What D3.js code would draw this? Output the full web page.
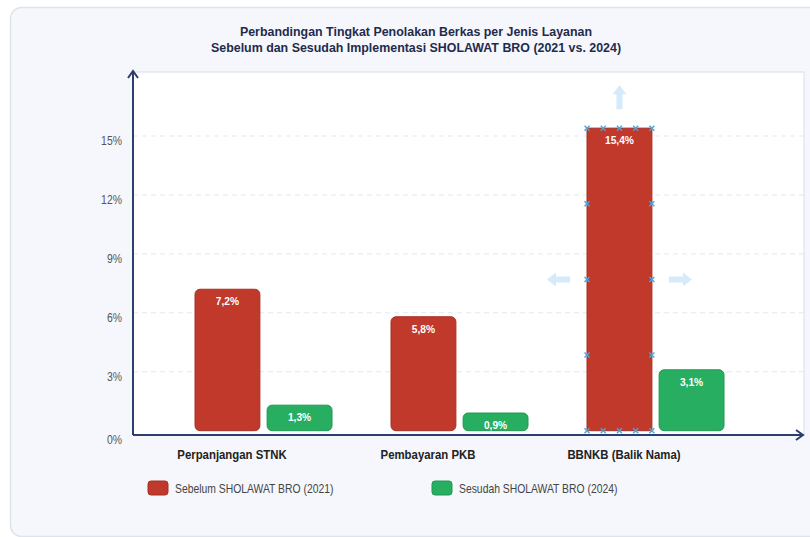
<!DOCTYPE html>
<html><head><meta charset="utf-8">
<script src="https://cdn.jsdelivr.net/npm/d3@7"></script>
<style>
html,body{margin:0;padding:0;background:#fff;}
svg{display:block;font-family:"Liberation Sans",Arial,sans-serif;}
</style></head>
<body><svg id="c" width="810" height="537"></svg>
<script>
const titleLines = ["Perbandingan Tingkat Penolakan Berkas per Jenis Layanan","Sebelum dan Sesudah Implementasi SHOLAWAT BRO (2021 vs. 2024)"];
const categories = ["Perpanjangan STNK","Pembayaran PKB","BBNKB (Balik Nama)"];
const seriesNames = ["Sebelum SHOLAWAT BRO (2021)","Sesudah SHOLAWAT BRO (2024)"];
const before2021 = [7.2, 5.8, 15.4];
const after2024 = [1.3, 0.9, 3.1];
const yTicks = [0, 3, 6, 9, 12, 15];
const colors = ["#c0392b", "#27ae60"];
const selectedCategory = "BBNKB (Balik Nama)";

const svg = d3.select("#c");
const fmt = v => String(v).replace(".", ",") + "%";
// condensed text helper: draws text at (x,y) squeezed horizontally by k
function ctext(sel, x, y, k) {
  return sel.attr("transform", (d,i)=>`translate(${typeof x==="function"?x(d,i):x},${typeof y==="function"?y(d,i):y}) scale(${k},1)`);
}

// card
svg.append("rect").attr("x",10.5).attr("y",7.5).attr("width",830).attr("height",529)
  .attr("rx",11).attr("fill","#f5f7fc").attr("stroke","#dfe4ec").attr("stroke-width",1.5);

// title
const tg = svg.append("g").selectAll("text").data(titleLines).join("text")
  .attr("text-anchor","middle").attr("font-size",13).attr("font-weight","bold").attr("fill","#1f2b4d")
  .text(d=>d);
ctext(tg, 416, (d,i)=>36+i*16, 0.955);

const plot = {left:133, right:804, top:72, bottom:435};
svg.append("rect").attr("x",plot.left).attr("y",plot.top).attr("width",plot.right-plot.left)
  .attr("height",plot.bottom-plot.top).attr("fill","#fff").attr("stroke","#e4e8f0").attr("stroke-width",1.5);

const y = d3.scaleLinear().domain([0, 15]).range([430.7, 136]);
const x0 = d3.scaleBand().domain(categories).range([134, 722]).padding(0);
const x1 = d3.scaleBand().domain([0,1]).range([61, 198]).paddingInner(0.1);

// grid
svg.append("g").selectAll("line").data(yTicks.filter(t=>t>0)).join("line")
  .attr("x1",plot.left).attr("x2",plot.right).attr("y1",d=>y(d)).attr("y2",d=>y(d))
  .attr("stroke","#e3e7ee").attr("stroke-dasharray","5,4");

// y labels
const yl = svg.append("g").selectAll("text").data(yTicks).join("text")
  .attr("dy","0.35em").attr("text-anchor","end")
  .attr("font-size",12).attr("fill","#555").text(d=>d+"%");
ctext(yl, 122, d=>y(d)+(d===0?9:5), 0.87);

// bars
const data = [];
categories.forEach((c,i)=>{
  data.push({cat:c, s:0, v:before2021[i]});
  data.push({cat:c, s:1, v:after2024[i]});
});
const bars = svg.append("g");
bars.selectAll("rect").data(data).join("rect")
  .attr("x",d=>x0(d.cat)+x1(d.s)).attr("width",x1.bandwidth())
  .attr("y",d=>y(d.v)).attr("height",d=>y(0)-y(d.v))
  .attr("rx",d=>(d.cat===selectedCategory&&d.s===0)?0:5)
  .attr("fill",d=>colors[d.s])
  .attr("stroke",d=>d3.color(colors[d.s]).darker(0.4)).attr("stroke-width",1);
const vl = bars.selectAll("text").data(data).join("text")
  .attr("dy","0.35em")
  .attr("text-anchor","middle").attr("font-size",11).attr("font-weight","bold").attr("fill","#fff")
  .text(d=>fmt(d.v));
ctext(vl, d=>x0(d.cat)+x1(d.s)+x1.bandwidth()/2, d=>y(d.v)+12, 0.93);

// selection decoration on selected bar
const selV = before2021[categories.indexOf(selectedCategory)];
const sx0 = x0(selectedCategory)+x1(0), sx1 = sx0 + x1.bandwidth();
const sy0 = y(selV), sy1 = y(0);
const handles = [];
[0,0.25,0.5,0.75,1].forEach(f=>{handles.push([sx0+f*(sx1-sx0), sy0]); handles.push([sx0+f*(sx1-sx0), sy1]);});
[0.25,0.5,0.75].forEach(f=>{handles.push([sx0, sy0+f*(sy1-sy0)]); handles.push([sx1, sy0+f*(sy1-sy0)]);});
const hg = svg.append("g").attr("stroke","#4aa6de").attr("stroke-width",1.4);
handles.forEach(([hx,hy])=>{
  hg.append("line").attr("x1",hx-2.5).attr("y1",hy-2.5).attr("x2",hx+2.5).attr("y2",hy+2.5);
  hg.append("line").attr("x1",hx-2.5).attr("y1",hy+2.5).attr("x2",hx+2.5).attr("y2",hy-2.5);
});
const midX = (sx0+sx1)/2, midY = (sy0+sy1)/2;
const ag = svg.append("g").attr("fill","#d5eafa");
ag.append("path").attr("d",`M${midX},${sy0-43} l7,9 h-4 v15 h-6 v-15 h-4 z`);
ag.append("path").attr("d",`M${sx0-40},${midY} l9,-7 v4 h14 v6 h-14 v4 z`);
ag.append("path").attr("d",`M${sx1+40},${midY} l-9,-7 v4 h-14 v6 h14 v4 z`);

// axes
const axc = "#2c3e6b";
svg.append("line").attr("x1",plot.left).attr("x2",plot.left).attr("y1",plot.bottom).attr("y2",71)
  .attr("stroke",axc).attr("stroke-width",2);
svg.append("path").attr("d",`M${plot.left-5},${78} L${plot.left},${71} L${plot.left+5},${78}`)
  .attr("fill","none").attr("stroke",axc).attr("stroke-width",2);
svg.append("line").attr("x1",plot.left).attr("x2",803).attr("y1",plot.bottom).attr("y2",plot.bottom)
  .attr("stroke",axc).attr("stroke-width",2);
svg.append("path").attr("d",`M${796},${plot.bottom-5} L${803},${plot.bottom} L${796},${plot.bottom+5}`)
  .attr("fill","none").attr("stroke",axc).attr("stroke-width",2);

// category labels
const cl = svg.append("g").selectAll("text").data(categories).join("text")
  .attr("dy","0.35em").attr("text-anchor","middle")
  .attr("font-size",12).attr("font-weight","bold").attr("fill","#222").text(d=>d);
ctext(cl, d=>x0(d)+x0.bandwidth()/2, 455, 0.95);

// legend
const lx = [148, 432];
const lg = svg.append("g").selectAll("g").data(seriesNames).join("g")
  .attr("transform",(d,i)=>`translate(${lx[i]},481)`);
lg.append("rect").attr("width",20).attr("height",14).attr("rx",3)
  .attr("fill",(d,i)=>colors[i]).attr("stroke",(d,i)=>d3.color(colors[i]).darker(0.4));
const lt = lg.append("text").attr("font-size",12).attr("fill","#444").attr("dy","0.1em").text(d=>d);
ctext(lt, 27, 11, 0.865);
</script></body></html>
